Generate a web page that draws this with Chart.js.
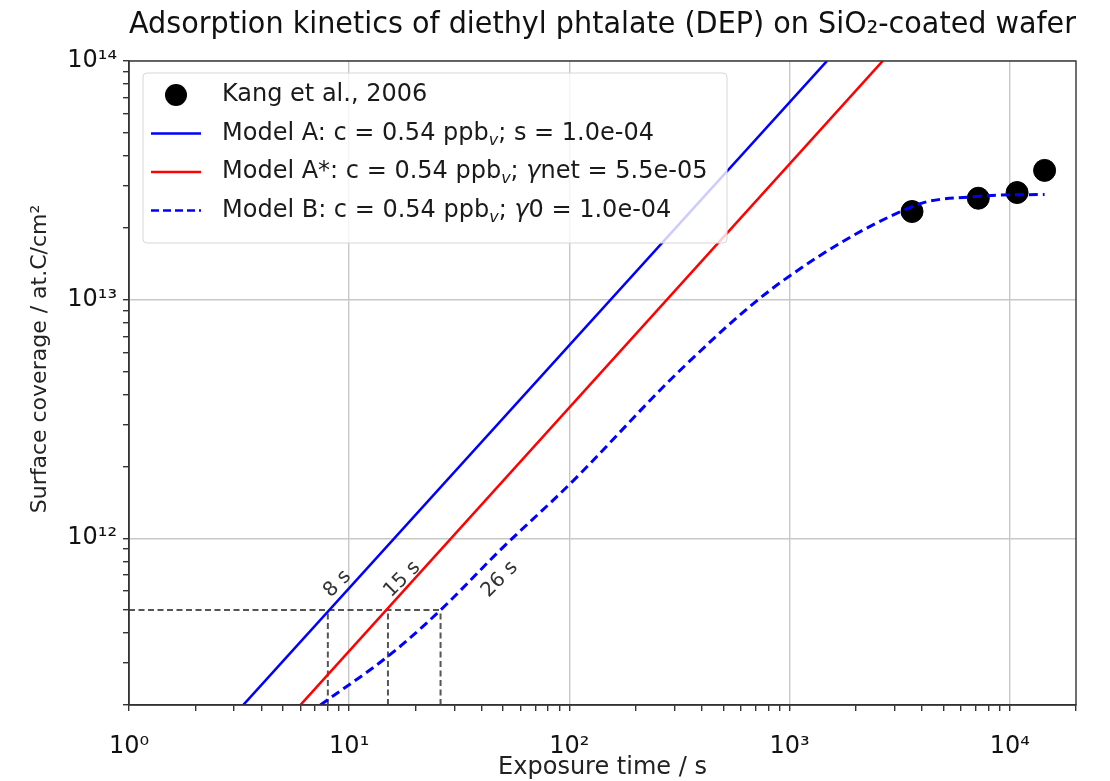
<!DOCTYPE html>
<html>
<head>
<meta charset="utf-8">
<script src="https://cdn.jsdelivr.net/npm/chart.js@4.4.0/dist/chart.umd.min.js"></script>
<style>
  body { margin: 0; background: #fff; }
  #wrap { width: 1110px; height: 781px; }
</style>
</head>
<body>
<div id="wrap"><canvas id="kinetics"></canvas></div>
<script>
// ---------------- data ----------------
// measurements (Kang et al., 2006), time in s, coverage in at.C/cm2
const kangTime = [3600, 7200, 10800, 14400];
const kangCov = [2.34e13, 2.66e13, 2.81e13, 3.48e13];

// Model A (straight line on log-log, clipped by the axes)
const modelATime = [3.3, 1480];
const modelACov = [2.0e11, 1.0e14];

// Model A*
const modelAStarTime = [6.0, 2650];
const modelAStarCov = [2.0e11, 1.0e14];

// Model B (dashed curve)
const modelBTime = [7.4, 15, 26, 49, 104, 343, 1005, 3630, 7300, 14400];
const modelBCov = [2.0e11, 3.2e11, 5.0e11, 9.0e11, 1.74e12, 5.4e12, 1.26e13, 2.46e13, 2.71e13, 2.76e13];

// reference level and the times where each model reaches it
const refCov = 5.0e11;
const refTimes = [8, 15, 26];
const refLabels = ["8 s", "15 s", "26 s"];

// axes
const xMin = 1, xMax = 20000;
const yMin = 2e11, yMax = 1e14;
const xDecades = [1, 10, 100, 1000, 10000];
const yDecades = [1e11, 1e12, 1e13, 1e14];
const yTitle = "Surface coverage / at.C/cm²";

const FONT = "'DejaVu Sans', sans-serif";

// ---------------- helpers ----------------
const sup = { "0": "⁰", "1": "¹", "2": "²", "3": "³", "4": "⁴", "5": "⁵", "6": "⁶", "7": "⁷", "8": "⁸", "9": "⁹", "-": "⁻" };
function powLabel (v) {
    let e = Math.round(Math.log10(v));
    return "10" + String(e).split("").map(c => sup[c]).join(""); }

function isDecade (v) {
    let l = Math.log10(v);
    return Math.abs(l - Math.round(l)) < 1e-9; }

// minor + major ticks 1..9 x each decade, inside [min, max]
function logTicks (decades, min, max) {
    let out = [];
    decades.forEach(d => { for (let m = 1; m <= 9; m++) {
        let v = m * d; if (v >= min * 0.999 && v <= max * 1.001) { out.push({value: v}); } } });
    return out; }

function toXY (xs, ys) { return xs.map((x, i) => ({x: x, y: ys[i]})); }

// dashed guide lines (horizontal at refCov, verticals at refTimes)
const guideSets = [{
    data: [{x: xMin, y: refCov}, {x: refTimes[refTimes.length - 1], y: refCov}]
}].concat(refTimes.map(t => ({ data: [{x: t, y: yMin}, {x: t, y: refCov}] })));

// ---------------- legend entries ----------------
// each entry is a list of [text, style] parts; style: n normal, s subscript italic, i italic
const legendEntries = [
    { kind: "dot", parts: [["Kang et al., 2006", "n"]] },
    { kind: "line", color: "#0000ff", dash: [], parts: [["Model A: c = 0.54 ppb", "n"], ["v", "s"], ["; s = 1.0e-04", "n"]] },
    { kind: "line", color: "#ff0000", dash: [], parts: [["Model A*: c = 0.54 ppb", "n"], ["v", "s"], ["; ", "n"], ["γ", "i"], ["net = 5.5e-05", "n"]] },
    { kind: "line", color: "#0000ff", dash: [8, 4], parts: [["Model B: c = 0.54 ppb", "n"], ["v", "s"], ["; ", "n"], ["γ", "i"], ["0 = 1.0e-04", "n"]] }
];

// ---------------- plugins ----------------
const framePlugin = {
    id: "frame",
    afterDatasetsDraw (chart) {
        const {ctx, chartArea: a, scales} = chart;
        // rotated labels next to the guide lines
        ctx.save();
        ctx.fillStyle = "#333";
        ctx.font = "20px " + FONT;
        const shift = [1.0, 1.0, 1.6];
        refTimes.forEach((t, i) => {
            let px = scales.x.getPixelForValue(t * shift[i]) + 3;
            let py = scales.y.getPixelForValue(refCov) - 12;
            ctx.save(); ctx.translate(px, py); ctx.rotate(-Math.PI / 4);
            ctx.textAlign = "left"; ctx.textBaseline = "alphabetic";
            ctx.fillText(refLabels[i], 0, 0); ctx.restore(); });
        ctx.restore();

        // legend box inside the axes
        const bx = a.left + 14, by = a.top + 12, bw = 584, bh = 170;
        ctx.save();
        ctx.fillStyle = "rgba(255,255,255,0.8)";
        ctx.strokeStyle = "#d6d6d6"; ctx.lineWidth = 1;
        ctx.beginPath(); ctx.roundRect(bx, by, bw, bh, 4); ctx.fill(); ctx.stroke();
        legendEntries.forEach((e, i) => {
            let cy = by + 22 + i * 38.5;
            if (e.kind === "dot") {
                ctx.fillStyle = "#000"; ctx.beginPath();
                ctx.arc(bx + 33, cy, 11, 0, Math.PI * 2); ctx.fill();
            } else {
                ctx.strokeStyle = e.color; ctx.lineWidth = 2.6; ctx.setLineDash(e.dash);
                ctx.beginPath(); ctx.moveTo(bx + 8, cy); ctx.lineTo(bx + 58, cy); ctx.stroke();
                ctx.setLineDash([]); }
            let tx = bx + 79;
            ctx.fillStyle = "#1a1a1a"; ctx.textBaseline = "middle"; ctx.textAlign = "left";
            e.parts.forEach(p => {
                let dy = 0;
                if (p[1] === "s") { ctx.font = "italic 16px " + FONT; dy = 7; }
                else if (p[1] === "i") { ctx.font = "italic 24px " + FONT; }
                else { ctx.font = "24px " + FONT; }
                ctx.fillText(p[0], tx, cy + dy);
                tx += ctx.measureText(p[0]).width; }); });
        ctx.restore();
    },
    afterDraw (chart) {
        const {ctx, chartArea: a} = chart;
        ctx.save(); ctx.strokeStyle = "#333"; ctx.lineWidth = 1.4;
        ctx.strokeRect(a.left, a.top, a.right - a.left, a.bottom - a.top);
        // y axis title, centred a little above the middle of the axes like the original
        ctx.fillStyle = "#222"; ctx.font = "22px " + FONT;
        ctx.translate(40, (a.top + a.bottom) / 2 - 24); ctx.rotate(-Math.PI / 2);
        ctx.textAlign = "center"; ctx.textBaseline = "middle";
        ctx.fillText(yTitle, 0, 0);
        ctx.restore(); }
};

// ---------------- chart ----------------
const lineStyle = { showLine: true, pointRadius: 0, borderWidth: 2.6, fill: false };

const chart = new Chart("kinetics", {
    type: "scatter",
    data: {
        datasets: [
            Object.assign({ label: "Model A", data: toXY(modelATime, modelACov), borderColor: "#0000ff" }, lineStyle),
            Object.assign({ label: "Model A*", data: toXY(modelAStarTime, modelAStarCov), borderColor: "#ff0000" }, lineStyle),
            Object.assign({ label: "Model B", data: toXY(modelBTime, modelBCov), borderColor: "#0000ff",
                borderDash: [9, 5], tension: 0.35 }, lineStyle, {borderWidth: 3}),
            ...guideSets.map((g, i) => Object.assign({ label: "guide" + i, data: g.data, borderColor: "#555",
                borderDash: [6, 3.5] }, lineStyle, {borderWidth: 2})),
            { label: "Kang et al., 2006", data: toXY(kangTime, kangCov), backgroundColor: "#000",
              borderColor: "#000", pointRadius: 11, pointHoverRadius: 11, showLine: false }
        ]
    },
    options: {
        responsive: true,
        maintainAspectRatio: false,
        animation: false,
        layout: { padding: { left: 20, right: 34, top: 4, bottom: 0 } },
        plugins: {
            legend: { display: false },
            tooltip: { enabled: false },
            title: {
                display: true, fullSize: false,
                text: "Adsorption kinetics of diethyl phtalate (DEP) on SiO₂-coated wafer",
                color: "#111", font: { family: FONT, size: 30, weight: "normal" },
                padding: { top: 3, bottom: 18 } }
        },
        scales: {
            x: {
                type: "logarithmic", min: xMin, max: xMax,
                afterBuildTicks: s => { s.ticks = logTicks(xDecades, xMin, xMax); },
                afterFit: s => { s.height = 76; },
                border: { display: true, color: "#333", width: 1.4 },
                grid: { color: c => isDecade(c.tick.value) ? "#c8c8c8" : "rgba(0,0,0,0)",
                        tickColor: "#333", tickLength: 6, lineWidth: 1.4 },
                ticks: { autoSkip: false, maxRotation: 0, color: "#111", padding: 21,
                         font: { family: FONT, size: 24 },
                         callback: v => isDecade(v) ? powLabel(v) : "" },
                title: { display: true, text: "Exposure time / s", color: "#222",
                         font: { family: FONT, size: 24, lineHeight: 1 }, padding: { top: 0, bottom: 1 } }
            },
            y: {
                type: "logarithmic", min: yMin, max: yMax,
                afterBuildTicks: s => { s.ticks = logTicks(yDecades, yMin, yMax); },
                afterFit: s => { s.width = 109; },
                border: { display: true, color: "#333", width: 1.4 },
                grid: { color: c => isDecade(c.tick.value) ? "#c8c8c8" : "rgba(0,0,0,0)",
                        tickColor: "#333", tickLength: 6, lineWidth: 1.4 },
                ticks: { autoSkip: false, color: "#111", padding: 6,
                         font: { family: FONT, size: 24 },
                         callback: v => isDecade(v) ? powLabel(v) : "" },
                title: { display: false }
            }
        }
    },
    plugins: [framePlugin]
});
</script>
</body>
</html>
